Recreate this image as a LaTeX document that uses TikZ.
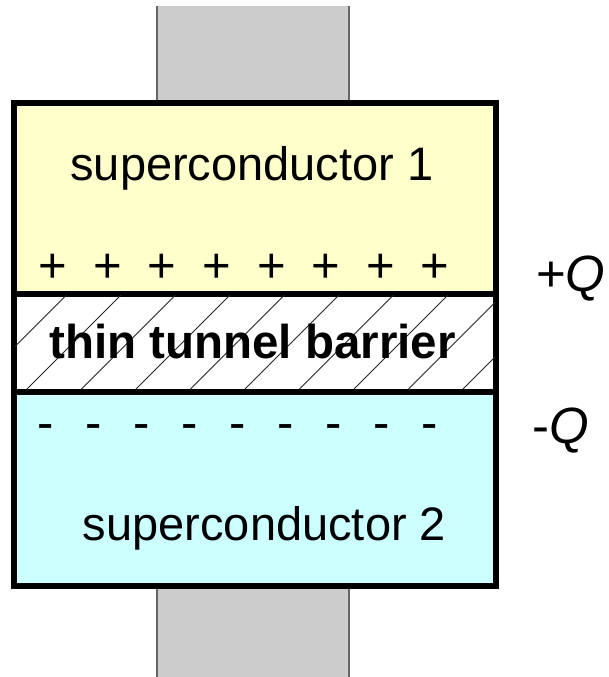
\documentclass[tikz,border=0pt]{standalone}
\usepackage{fontspec}
\setmainfont{Liberation Sans}
\begin{document}
\begin{tikzpicture}[x=1pt,y=-1pt,
  lead/.style={fill=leadgray,draw=leadedge,line width=2pt},
  layer/.style={draw=black,line width=4pt,rectangle,inner sep=0pt,anchor=north west},
  hatch/.style={draw=black!85,line width=0.8pt},
  label/.style={font=\fontsize{47}{56}\selectfont,inner sep=0pt},
  qlabel/.style={font=\fontsize{51}{60}\selectfont,inner sep=0pt,anchor=base west},
  charge/.style={font=\fontsize{49}{58}\selectfont,inner sep=0pt}]
\definecolor{leadgray}{HTML}{CCCCCC}
\definecolor{leadedge}{HTML}{666666}
\definecolor{scyellow}{HTML}{FFFFCC}
\definecolor{sccyan}{HTML}{CCFFFF}
\useasboundingbox (0,0) rectangle (609,677);

% current leads
\fill[leadgray] (157,6) rectangle (349,104);
\draw[lead,fill=none] (157,6) -- (157,104) (349,6) -- (349,104);
\fill[leadgray] (157,581) rectangle (349,680);
\draw[lead,fill=none] (157,581) -- (157,680) (349,581) -- (349,680);

% the three layers of the junction
\node[layer,fill=scyellow,minimum width=480.5pt,minimum height=191pt] (sc1) at (12.5,102) {};
\node[layer,fill=white,minimum width=480.5pt,minimum height=96pt] (bar) at (12.5,293) {};
\node[layer,fill=sccyan,minimum width=480.5pt,minimum height=194pt] (sc2) at (12.5,389) {};

% hatching of the barrier
\begin{scope}
  \clip (bar.north west) rectangle (bar.south east);
  \foreach \k in {-2,...,9}
    \draw[hatch] ({27+54.5*\k},389) -- ({27+54.5*\k+96},293);
\end{scope}
\draw[line width=4pt] (bar.north west) rectangle (bar.south east);
\draw[line width=4pt] (sc1.north west) rectangle (sc2.south east);

% texts
\node[label,anchor=base] (t1) at (252,180) {superconductor 1};
\node[label,anchor=base] (t2) at (264.5,540) {superconductor 2};
\node[label,anchor=base,font=\fontsize{47.5}{56}\selectfont\bfseries] (tb) at (252.5,358) {thin tunnel barrier};

% surface charges
\foreach \i in {0,...,7}
  \node[charge] (p\i) at ({53+54.6*\i},268) {+};
\foreach \i in {0,...,8}
  \node[charge] (m\i) at ({46+48*\i},432) {-};

\node[qlabel] (qp) at (536,291) {+\textit{Q}};
\node[qlabel] (qm) at (532,443) {-\textit{Q}};
\end{tikzpicture}
\end{document}
